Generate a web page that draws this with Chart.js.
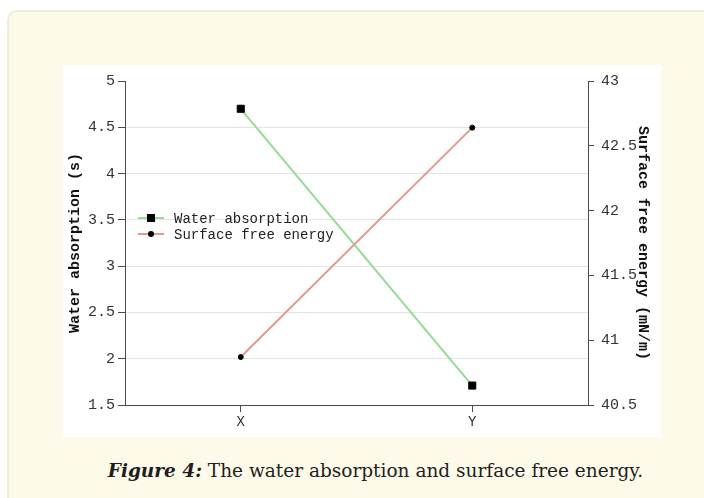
<!DOCTYPE html>
<html>
<head>
<meta charset="utf-8">
<script src="https://cdn.jsdelivr.net/npm/chart.js@4.4.1/dist/chart.umd.min.js"></script>
<style>
    html, body { margin: 0; padding: 0; background: #ffffff; width: 704px; height: 498px; overflow: hidden; }
    .panel {
        position: absolute; left: 7px; top: 10px; width: 720px; height: 520px;
        background: #fefae9; border: 2px solid #f1ecd8; border-radius: 10px;
        box-sizing: border-box;
    }
    .chart-box { position: absolute; left: 63px; top: 65px; width: 598px; height: 372px; background: #ffffff; }
    .caption {
        position: absolute; left: 0; top: 460px; width: 751px; text-align: center;
        font-family: "DejaVu Serif", serif; font-size: 18.5px; color: #1e1e1e;
    }
    .caption b { font-style: italic; }
</style>
</head>
<body>
<div class="panel"></div>
<div class="chart-box"><canvas id="figChart" width="598" height="372"></canvas></div>
<div class="caption"><b>Figure 4:</b> The water absorption and surface free energy.</div>
<script>
// data
const categories = ['X', 'Y'];
const waterAbsorption = [4.7, 1.71];   // s
const surfaceEnergy = [40.87, 42.64];  // mN/m
const leftRange = [1.5, 5];
const rightRange = [40.5, 43];

const monoFont = '"Liberation Mono", "DejaVu Sans Mono", monospace';
const axisColor = '#4a4a4a';

function plainNumber(v) {
    return String(Number(v.toFixed(2)));
}

// legend drawn inside the plot, left side
const innerLegend = {
    id: 'innerLegend',
    afterDatasetsDraw(chart) {
        const ctx = chart.ctx;
        const area = chart.chartArea;
        const items = chart.data.datasets;
        ctx.save();
        items.forEach(function(ds, i) {
            const y = area.top + 137 + i * 16;
            const x0 = area.left + 13;
            ctx.strokeStyle = ds.borderColor;
            ctx.lineWidth = 2;
            ctx.beginPath();
            ctx.moveTo(x0, y);
            ctx.lineTo(x0 + 26, y);
            ctx.stroke();
            ctx.fillStyle = '#000';
            if (ds.pointStyle === 'rect') {
                ctx.fillRect(x0 + 9, y - 4, 8, 8);
            } else {
                ctx.beginPath();
                ctx.arc(x0 + 13, y, 3, 0, Math.PI * 2);
                ctx.fill();
            }
            ctx.fillStyle = '#222';
            ctx.font = '14px ' + monoFont;
            ctx.textBaseline = 'middle';
            ctx.fillText(ds.label, x0 + 36, y + 1);
        });
        ctx.restore();
    }
};

new Chart(document.getElementById('figChart'), {
    type: 'line',
    data: {
        labels: categories,
        datasets: [{
            label: 'Water absorption',
            data: waterAbsorption,
            yAxisID: 'y',
            borderColor: '#93dd93',
            borderWidth: 2,
            pointStyle: 'rect',
            pointRadius: 5,
            pointBackgroundColor: '#000',
            pointBorderColor: '#000',
            pointBorderWidth: 1,
            order: 1
        }, {
            label: 'Surface free energy',
            data: surfaceEnergy,
            yAxisID: 'y1',
            borderColor: '#e7978c',
            borderWidth: 2,
            pointStyle: 'circle',
            pointRadius: 2.5,
            pointBackgroundColor: '#000',
            pointBorderColor: '#000',
            pointBorderWidth: 1,
            order: 0
        }]
    },
    options: {
        responsive: false,
        animation: false,
        layout: { padding: { top: 16, left: 0, right: 0, bottom: 0 } },
        plugins: {
            legend: { display: false },
            tooltip: { enabled: false }
        },
        scales: {
            x: {
                type: 'category',
                offset: true,
                afterFit: function(s) { s.height = 32; },
                grid: { offset: false, drawOnChartArea: false, tickLength: 7, tickColor: axisColor },
                border: { display: true, color: axisColor },
                ticks: { color: '#333', padding: 2, font: { family: monoFont, size: 14 } }
            },
            y: {
                position: 'left',
                min: leftRange[0],
                max: leftRange[1],
                afterFit: function(s) { s.width = 62; },
                grid: {
                    color: function(c) {
                        return (c.tick && (c.tick.value === leftRange[0] || c.tick.value === leftRange[1])) ? 'rgba(0,0,0,0)' : '#e4e4e4';
                    },
                    tickColor: axisColor,
                    tickLength: 7
                },
                border: { display: true, color: axisColor },
                ticks: { stepSize: 0.5, color: '#333', padding: 3, font: { family: monoFont, size: 15 }, callback: plainNumber },
                title: {
                    display: true,
                    text: 'Water absorption (s)',
                    color: '#111',
                    padding: { top: 3, bottom: 0 },
                    font: { family: monoFont, size: 15, weight: 'bold' }
                }
            },
            y1: {
                position: 'right',
                min: rightRange[0],
                max: rightRange[1],
                afterFit: function(s) { s.width = 73; },
                grid: { drawOnChartArea: false, tickColor: axisColor, tickLength: 6 },
                border: { display: true, color: axisColor },
                ticks: { stepSize: 0.5, color: '#333', padding: 7, font: { family: monoFont, size: 15 }, callback: plainNumber },
                title: {
                    display: true,
                    text: 'Surface free energy (mN/m)',
                    color: '#111',
                    padding: { top: 9, bottom: 0 },
                    font: { family: monoFont, size: 15, weight: 'bold' }
                }
            }
        }
    },
    plugins: [innerLegend]
});
</script>
</body>
</html>
